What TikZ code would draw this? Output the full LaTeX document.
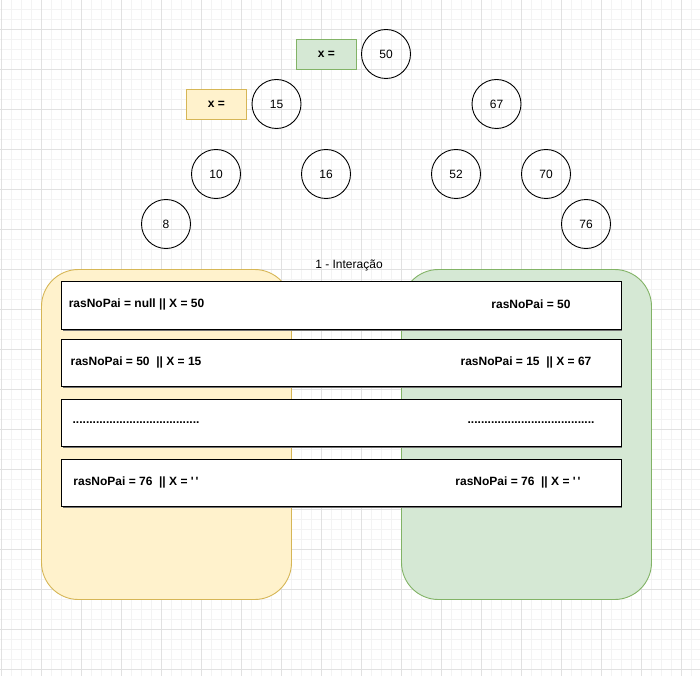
\documentclass[tikz,border=0pt]{standalone}
\usepackage{fontspec}
\setmainfont{Liberation Sans}

\definecolor{yelFill}{HTML}{FFF2CC}
\definecolor{yelLine}{HTML}{D6B656}
\definecolor{grnFill}{HTML}{D5E8D4}
\definecolor{grnLine}{HTML}{82B366}
\definecolor{gridMinor}{HTML}{F3F3F3}
\definecolor{gridMajor}{HTML}{E1E1E1}

\tikzset{
  keynode/.style={circle, draw, line width=0.9pt, minimum size=49pt, inner sep=0pt},
  xbox/.style={draw, line width=0.9pt, minimum width=60pt, minimum height=30pt,
    font=\fontsize{12}{14}\selectfont\bfseries},
  rowbox/.style={draw, fill=white, line width=1pt, minimum width=559.5pt, minimum height=47.5pt,
    inner sep=0pt, drop shadow={shadow xshift=1.2pt, shadow yshift=-1.6pt, fill=black!55, opacity=1}},
  rowtext/.style={font=\fontsize{12}{14}\selectfont\bfseries, inner sep=0pt},
}
\usetikzlibrary{shadows}
\newcommand{\emptyq}{\textquotesingle\,\textquotesingle}

\begin{document}
\begin{tikzpicture}[x=1pt, y=-1pt, font=\fontsize{12}{14}\selectfont]
  \useasboundingbox (0,0) rectangle (700,676);

  % grid
  \foreach \gx in {0,...,69}
    \draw[gridMinor, line width=0.8pt] (1.5+10*\gx,0) -- (1.5+10*\gx,676);
  \foreach \gy in {-2,...,64}
    \draw[gridMinor, line width=0.8pt] (0,29.5+10*\gy) -- (700,29.5+10*\gy);
  \foreach \gx in {0,...,17}
    \draw[gridMajor, line width=0.9pt] (1.5+40*\gx,0) -- (1.5+40*\gx,676);
  \foreach \gy in {0,...,16}
    \draw[gridMajor, line width=0.9pt] (0,29.5+40*\gy) -- (700,29.5+40*\gy);

  % tree
  \begin{scope}[every node/.style={keynode}]
    \node (k50) at (386,54)  {50};
    \node (k15) at (276.5,104) {15};
    \node (k67) at (496.5,104) {67};
    \node (k10) at (216,174) {10};
    \node (k16) at (326,174) {16};
    \node (k52) at (456,174) {52};
    \node (k70) at (546,174) {70};
    \node (k8)  at (166,224) {8};
    \node (k76) at (586,224) {76};
  \end{scope}

  \node[xbox, fill=grnFill, draw=grnLine] (xgreen)  at (326.5,54.3)  {x =};
  \node[xbox, fill=yelFill, draw=yelLine] (xyellow) at (216.5,104.3) {x =};

  \node (title) at (349,265.5) {1 - Interação};

  % panels
  \draw[yelLine, fill=yelFill, line width=0.9pt, rounded corners=37pt] (41.5,269.5) rectangle (291.5,599.5);
  \draw[grnLine, fill=grnFill, line width=0.9pt, rounded corners=37pt] (401.5,269.5) rectangle (651.5,599.5);

  % rows
  \begin{scope}[every node/.style={rowbox}]
    \node (row1) at (341.3,305.3) {};
    \node (row2) at (341.3,363.1) {};
    \node (row3) at (341.3,423.1) {};
    \node (row4) at (341.3,483.1) {};
  \end{scope}

  \begin{scope}[every node/.style={rowtext}]
    \node (left1)  at (136.5,304) {rasNoPai = null || X = 50};
    \node (right1) at (531,304)   {rasNoPai = 50};
    \node (left2)  at (136,362)   {rasNoPai = 50\ \ || X = 15};
    \node (right2) at (526,362)   {rasNoPai = 15\ \ || X = 67};
    \node (left3)  at (136,422.5) {......................................};
    \node (right3) at (531,422.5) {......................................};
    \node (left4)  at (136,482)   {rasNoPai = 76\ \ || X = \emptyq};
    \node (right4) at (518,482)   {rasNoPai = 76\ \ || X = \emptyq};
  \end{scope}

\end{tikzpicture}
\end{document}
